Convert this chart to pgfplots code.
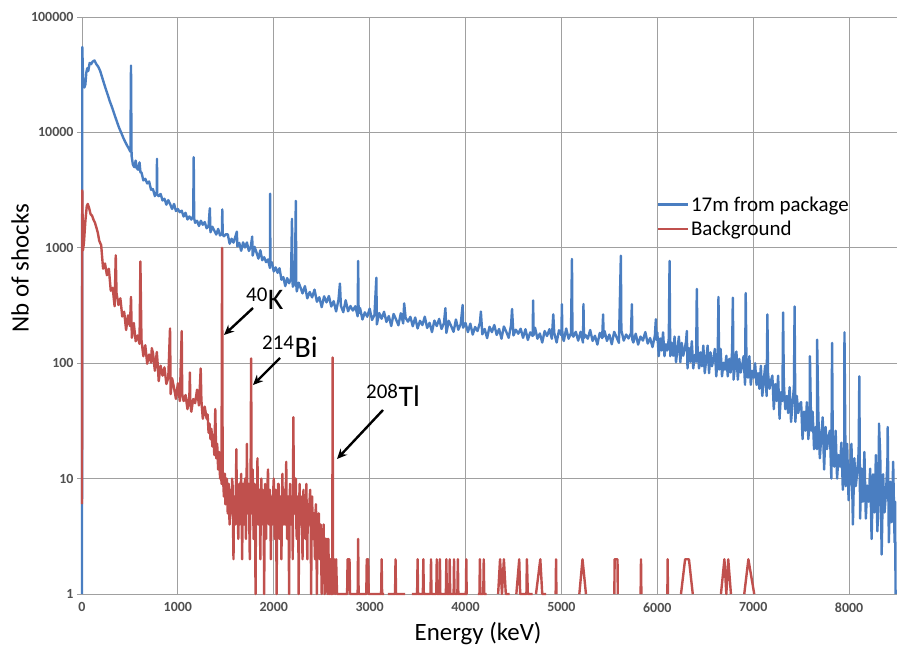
\documentclass[border=0pt]{standalone}
\usepackage{fontspec}
\setmainfont{Carlito}
\usepackage{pgfplots}
\pgfplotsset{compat=1.18}
\usetikzlibrary{arrows.meta}
\definecolor{sblue}{RGB}{74,126,193}
\definecolor{sred}{RGB}{192,80,77}
\definecolor{gridgray}{RGB}{160,160,160}
\definecolor{tickgray}{RGB}{80,80,80}
\begin{document}
\begin{tikzpicture}
\path[use as bounding box] (0,0) rectangle (897bp,650bp);
\begin{axis}[
  at={(82bp,56bp)}, anchor=south west,
  scale only axis, width=815bp, height=577bp,
  xmin=0, xmax=8500, ymin=1, ymax=100000, ymode=log,
  xtick={0,1000,2000,3000,4000,5000,6000,7000,8000},
  xticklabels={0,1000,2000,3000,4000,5000,6000,7000,8000},
  ytick={1,10,100,1000,10000,100000},
  yticklabels={1,10,100,1000,10000,100000},
  minor y tick style={draw=none},
  grid=major,
  major grid style={draw=gridgray, line width=0.9bp},
  axis x line=bottom, axis y line=left,
  axis line style={-, draw=gridgray, line width=0.9bp},
  tick align=outside,
  major tick length=5bp,
  xtick style={draw=none},
  ytick style={draw=gridgray, line width=0.9bp},
  tick label style={font=\fontsize{14}{16}\selectfont\bfseries, text=tickgray},
  /pgf/number format/assume math mode=true,
  clip=false,
  unbounded coords=jump,
  xlabel={Energy (keV)}, ylabel={Nb of shocks},
  label style={font=\fontsize{25}{30}\selectfont},
  xlabel style={at={(axis description cs:0.486,-0.0693)}, anchor=center},
  ylabel style={at={(axis description cs:-0.0761,0.565)}, anchor=center},
  legend style={at={(0.7015,0.696)}, anchor=north west, draw=none, fill=none,
    font=\fontsize{21}{25}\selectfont, row sep=4bp},
  legend cell align=left,
  legend image code/.code={\draw[#1, line width=2.2bp] (-7bp,0bp) -- (23bp,0bp);},
]
\addplot[sblue, line width=2.4bp, line join=round] coordinates {
(0,1)(3,55000)(12,27000)(25,24500)(35,26000)(45,33000)(55,36000)(65,34000)(80,40000)(95,39000)(110,41000)(130,42000)(150,39000)(170,37000)(190,34000)(210,30000)(230,26500)(250,23500)(270,21000)(290,18600)(310,16800)(330,15000)(350,13400)(370,12000)(390,10800)(410,9900)(430,9000)(450,8300)(470,7700)(490,7200)(505,6800)(511,38000)(517,6300)(530,5300)(545,5000)(560,5700)(570,4900)(585,4750)(600,5500)(610,4500)
(620,4510)(640,3840)(660,3962)(680,3611)(700,3752)(720,3189)(740,3226)(760,2806)(780,3068)(782,5900)(785,2900)(800,2804)(820,2926)(840,2573)(860,2662)(880,2366)(900,2587)(920,2380)(940,2171)(960,2398)(980,2081)(1000,2167)(1020,2034)(1040,2096)(1060,1866)(1080,2012)(1100,1760)(1120,1869)(1140,1757)(1160,1887)(1165,6100)(1170,1800)(1180,1647)(1200,1714)(1220,1546)(1240,1716)(1260,1584)(1280,1670)(1300,1478)(1320,1536)(1333,2200)(1340,1364)(1360,1521)(1380,1410)(1400,1303)(1420,1458)(1440,1278)(1460,1342)(1463,2150)(1468,1290)(1480,1260)(1500,1310)
(1520,1308)(1540,1085)(1560,1198)(1580,1109)(1600,1252)(1615,1380)(1620,1030)(1640,1103)(1660,942)(1680,1113)(1700,1005)(1720,1112)(1740,940)(1760,1015)(1775,1250)(1780,856)(1800,1019)(1820,910)(1840,806)(1860,952)(1880,781)(1900,828)(1920,751)(1940,793)(1960,668)(1962,2950)(1965,700)(1980,750)(2000,624)(2020,676)(2040,607)(2060,665)(2080,529)(2100,557)(2120,466)(2140,546)(2160,493)(2180,543)(2190,1780)(2195,500)(2200,461)(2220,497)(2230,2550)(2235,480)(2240,419)(2260,499)(2280,450)(2300,403)
(2325,465)(2350,365)(2375,414)(2400,372)(2425,434)(2450,341)(2475,373)(2500,306)(2525,380)(2550,337)(2575,382)(2600,310)(2625,345)(2650,281)(2675,354)(2690,490)(2700,315)(2725,277)(2750,351)(2775,282)(2800,313)(2825,286)(2850,311)(2875,255)(2880,770)(2885,270)(2900,300)(2925,239)(2950,276)(2975,253)(3000,297)(3025,237)(3050,262)(3070,550)(3075,217)(3100,272)(3125,243)(3150,279)(3175,228)(3200,256)(3225,210)(3250,267)(3275,240)(3300,213)(3325,271)(3350,221)(3360,330)(3375,247)(3400,229)(3425,252)(3450,209)(3475,249)(3500,200)(3525,233)(3550,214)(3575,253)(3600,202)(3625,224)(3650,186)(3675,234)(3700,210)(3725,242)(3750,198)(3775,223)(3790,300)(3800,183)(3825,233)(3850,210)(3875,187)(3900,239)(3925,195)(3950,218)(3970,320)(3975,203)(4000,223)(4025,186)(4050,220)(4075,177)(4100,206)(4125,190)(4150,224)(4160,280)(4175,178)(4200,198)(4225,165)(4250,207)(4275,186)(4300,214)(4325,176)(4350,198)(4375,163)(4400,208)(4425,187)(4450,166)(4475,214)(4485,295)(4500,174)(4525,195)(4550,180)(4575,199)(4600,166)(4625,197)(4650,159)(4675,185)(4700,172)(4705,350)(4710,175)(4725,203)(4750,163)(4775,181)(4800,151)(4825,190)(4850,172)(4875,197)(4900,163)(4915,265)(4925,184)(4950,151)(4975,193)(5000,175)(5005,325)(5010,170)(5025,156)(5050,200)(5075,163)(5100,183)(5110,800)(5115,175)(5125,170)(5150,187)(5175,157)(5200,187)(5225,151)(5230,325)(5235,165)(5250,176)(5275,163)(5300,194)(5325,156)(5350,173)(5375,145)(5400,183)(5425,165)(5435,265)(5440,170)(5450,190)(5475,156)(5500,177)(5525,146)(5550,187)(5575,168)(5600,150)(5620,855)(5625,193)(5650,157)(5675,177)(5700,164)(5725,181)(5735,325)(5740,160)(5750,151)(5775,180)(5800,145)(5825,170)(5850,157)(5875,186)(5900,148)(5925,165)(5950,138)(5975,174)(5985,240)(5990,160)
(6000,185)(6015,115)(6030,164)(6045,129)(6060,185)(6075,115)(6090,146)(6105,129)(6120,164)(6128,770)(6135,115)
(6150,150)(6165,116)(6180,170)(6195,102)(6210,132)(6225,170)(6240,102)(6255,150)(6270,116)(6285,132)
(6300,155)(6308,190)(6315,90)(6330,135)(6345,103)(6360,155)(6375,90)(6390,118)(6405,103)(6412,440)(6420,135)(6435,90)
(6450,124)(6465,94)(6480,142)(6495,82)(6510,108)(6525,142)(6540,82)(6555,124)(6570,94)(6585,108)
(6600,133)(6615,77)(6630,116)(6638,375)(6645,88)(6660,133)(6675,77)(6690,101)(6705,88)(6720,116)(6735,77)
(6750,109)(6765,83)(6780,126)(6788,370)(6795,72)(6810,95)(6825,126)(6840,72)(6855,109)(6870,83)(6885,95)
(6900,115)(6915,65)(6922,405)(6930,100)(6945,75)(6960,115)(6975,65)(6990,86)(7005,75)(7020,100)(7035,65)
(7050,82)(7065,60)(7080,95)(7095,52)(7110,70)(7125,95)(7140,52)(7148,265)(7155,82)(7170,60)(7185,70)
(7200,78)(7215,40)(7230,66)(7245,47)(7260,78)(7275,33)(7290,56)(7305,47)(7312,275)(7320,66)(7335,40)
(7350,52)(7365,37)(7380,62)(7395,31)(7410,44)(7425,62)(7432,310)(7440,31)(7455,52)(7470,37)(7485,44)
(7500,46)(7515,22)(7530,38)(7545,26)(7560,46)(7575,22)(7590,32)(7592,115)(7605,26)(7620,38)(7635,18)
(7650,28)(7665,18)(7667,160)(7680,34)(7695,15)(7710,23)(7725,34)(7740,12)(7755,28)(7770,18)(7785,23)
(7800,26)(7815,10)(7823,150)(7830,20.5)(7845,12.7)(7860,26)(7875,10)(7890,16)(7905,12.7)(7920,20.5)(7935,8)
(7950,15)(7952,185)(7965,8.6)(7980,20)(7995,6.5)(8010,11.4)(8025,20)(8040,4)(8055,15)(8070,8.6)(8085,11.4)
(8100,17)(8107,77)(8115,4.5)(8130,12.2)(8145,6.3)(8160,17)(8175,4.5)(8190,8.7)(8205,6.3)(8220,12.2)(8235,3)
(8250,10.9)(8265,5.1)(8280,16)(8295,3.5)(8310,7.5)(8312,30)(8325,16)(8340,2.2)(8355,10.9)(8370,5.1)(8385,7.5)
(8400,14)(8403,28)(8415,2.8)(8430,9.4)(8445,4.2)(8460,14)(8475,2.8)(8480,6.3)(8485,1)
};
\addlegendentry{17m from package}
\addplot[sred, line width=2.4bp, line join=round] coordinates {
(0,6)(3,3150)(10,950)(20,1100)(35,1700)(50,2300)(60,2400)(75,2200)(90,1950)(105,1900)(120,1750)(135,1650)(150,1500)(165,1350)(180,1150)(200,1053)(220,659)(240,731)(260,579)(280,659)(300,425)(320,450)(340,312)(352,860)(360,405)(380,320)(400,365)(420,254)(440,279)(460,194)(480,260)(500,210)(511,375)(520,166)(540,223)(560,155)(580,174)(600,147)(609,760)(620,160)(640,115)(660,143)(680,99)(700,119)(720,101)(728,135)(740,123)(760,86)(780,125)(790,97)(800,70)(820,95)(840,78)(860,92)(880,66)(900,75)(918,200)(925,54)(940,74)(960,61)(980,49)(1000,67)(1020,47)(1040,190)(1045,54)(1060,47)(1080,53)(1100,40)(1120,52)(1125,83)(1130,45)(1140,38)(1160,49)(1180,45)(1200,59)(1220,43)(1238,90)(1245,48)(1260,33)(1280,42)(1300,33)
(1310,36)(1320,25)(1330,30)(1340,22)(1350,27)(1360,19)(1370,24)(1380,16)(1390,40)(1400,15)(1410,20)(1420,12)(1430,17)(1440,10)(1450,14)(1455,9)(1461,1000)(1467,12)
(1480,7)(1485,9)(1490,11)(1495,6)(1500,6)(1505,8)(1510,10)(1515,7)(1520,5)(1525,8)(1530,9)(1535,5)(1540,4)(1545,7)(1550,8)(1555,6)(1560,5)(1565,10)(1570,9)(1575,4)(1580,2)(1585,6)(1590,7)(1595,5)(1600,4)(1605,8)(1610,18)(1615,6)(1620,8)(1625,5)(1630,3)(1635,7)(1640,9)(1645,4)(1650,5)(1655,8)(1660,11)(1665,6)(1670,2)(1675,5)(1680,7)(1685,9)(1690,4)(1695,6)(1700,10)(1705,5)(1710,3)(1715,7)(1720,20)(1725,5)(1730,6)(1735,8)(1740,9)(1745,4)(1750,2)(1755,6)(1758,8)(1764,110)(1770,5)(1775,8)(1780,12)(1785,6)(1790,3)(1795,7)(1800,9)(1805,5)(1810,1)(1815,6)(1820,7)(1825,4)(1830,15)(1835,6)(1840,4)(1845,8)(1850,8)(1855,5)(1860,2)(1865,6)(1870,10)(1875,4)(1880,5)(1885,8)(1890,7)(1895,5)(1900,1)(1905,6)(1910,9)(1915,5)(1920,3)(1925,7)(1930,6)(1935,9)(1940,12)(1945,5)(1950,4)(1955,7)(1960,8)(1965,5)(1970,2)(1975,6)(1980,7)(1985,4)(1990,5)(1995,8)
(2000,10)(2005,6)(2010,3)(2015,7)(2020,8)(2025,5)(2030,1)(2035,6)(2040,6)(2045,9)(2050,9)(2055,4)(2060,3)(2065,7)(2070,7)(2075,5)(2080,2)(2085,6)(2090,11)(2095,5)(2100,4)(2105,8)(2110,8)(2115,4)(2120,5)(2125,7)(2130,14)(2135,5)(2140,3)(2145,6)(2150,7)(2155,4)(2160,1)(2165,6)(2170,9)(2175,5)(2180,4)(2185,7)(2190,6)(2195,5)(2198,2)(2204,34)(2210,8)(2215,5)(2220,5)(2225,7)(2230,10)(2235,4)(2240,3)(2245,6)(2250,7)(2255,5)(2260,1)(2265,6)(2270,9)(2275,4)(2280,4)(2285,7)(2290,6)(2295,4)(2300,2)(2305,6)(2310,8)(2315,4)(2320,5)(2325,7)(2330,3)(2335,5)(2340,9)(2345,4)(2350,2)(2355,6)(2360,6)(2365,4)(2370,4)(2375,7)(2380,8)(2385,4)(2390,1)(2395,5)(2400,7)(2405,4)(2410,3)(2415,5)(2420,5)(2425,3)(2430,2)(2435,5)(2440,6)(2445,3)(2450,1)(2455,4)(2460,4)(2465,3)(2470,5)(2475,3)(2480,2)(2485,4)(2490,4)(2495,2)(2500,1)(2505,3)(2510,3)(2515,2)(2520,4)(2525,2)(2530,1)(2535,3)(2540,3)(2545,2)(2550,2)(2555,3)(2560,1)(2565,2)(2570,3)(2575,1)(2580,1)(2585,2)(2590,2)(2595,1)(2600,1)(2610,1)(2614,112)(2618,1)(2630,2)(2640,1)(2650,2)(2660,1)
(2700,1)(2765,1)(2770,2)(2790,2)(2795,1)(2875,1)(2880,3)(2885,1)(2965,1)(2970,2)(2985,2)(2990,1)(3120,1)(3125,2)(3130,1)(3150,1)(3160,nan)(3190,1)(3265,1)(3270,2)(3275,1)(3370,1)(3380,nan)(3440,1)(3495,1)(3500,2)(3505,1)(3555,1)(3560,2)(3565,1)(3635,1)(3640,2)(3645,1)(3695,1)(3700,2)(3705,1)(3729,1)(3733,2)(3737,1)(3795,1)(3800,2)(3805,1)(3831,1)(3835,2)(3840,1)(3876,1)(3880,2)(3885,1)(3915,1)(3920,2)(3925,1)(4004,1)(4008,2)(4012,1)(4020,1)(4030,nan)(4130,1)(4145,1)(4150,2)(4155,1)(4185,1)(4190,2)(4195,1)(4220,1)(4230,nan)(4340,1)(4360,2)(4380,1)(4400,2)(4420,1)(4460,1)(4470,nan)(4530,1)(4560,2)(4570,1)(4635,1)(4640,2)(4650,1)(4700,1)(4710,nan)(4735,1)(4780,2)(4800,1)(4840,1)(4850,nan)(4940,1)(4944,2)(4948,1)(4955,nan)(5187,1)(5220,2)(5256,1)(5260,nan)(5552,1)(5555,2)(5585,2)(5588,1)(5595,nan)(5826,1)(5830,2)(5834,1)(5840,nan)(6105,1)(6108,2)(6111,1)(6115,nan)(6247,1)(6290,2)(6330,2)(6370,1)(6375,nan)(6664,1)(6700,2)(6720,1)(6740,2)(6768,1)(6775,nan)(6907,1)(6950,2)(7011,1)
};
\addlegendentry{Background}
\end{axis}
\begin{scope}[font=\fontsize{30}{34}\selectfont]
\node[anchor=base west, inner sep=0pt] at (246bp,340bp) {\textsuperscript{40}K};
\node[anchor=base west, inner sep=0pt] at (262bp,292bp) {\textsuperscript{214}Bi};
\node[anchor=base west, inner sep=0pt] at (366bp,243bp) {\textsuperscript{208}Tl};
\end{scope}
\begin{scope}[line width=2.4bp, -{Stealth[length=10bp,width=9bp]}]
\draw (253bp,342bp) -- (224bp,315bp);
\draw (280bp,292bp) -- (253bp,265bp);
\draw (383bp,240bp) -- (337bp,191bp);
\end{scope}
\end{tikzpicture}
\end{document}
